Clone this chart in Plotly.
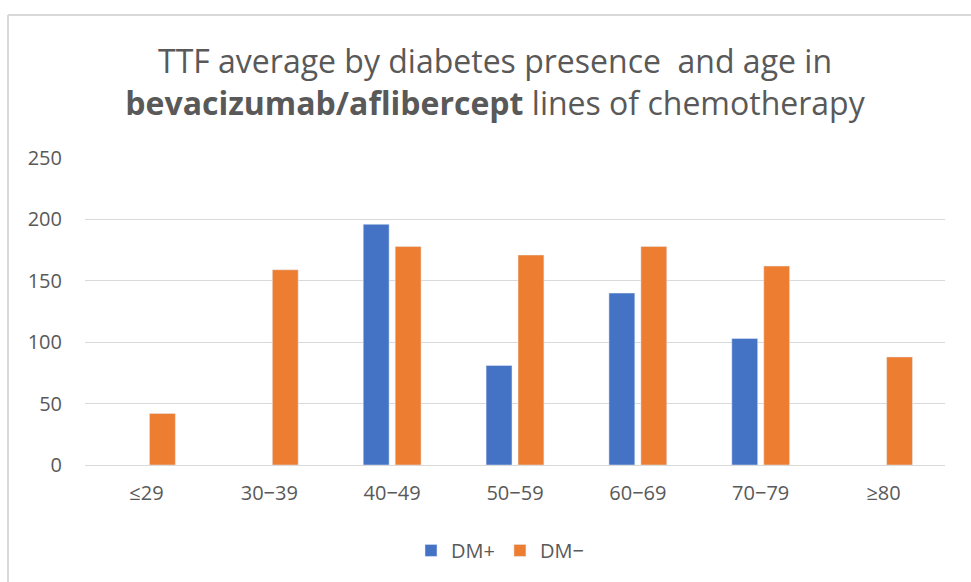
import plotly.graph_objects as go

categories = ["≤29", "30−39", "40−49", "50−59", "60−69", "70−79", "≥80"]
dm_plus = [None, None, 196, 81, 140, 103, None]
dm_minus = [42, 159, 178, 171, 178, 162, 88]
y_ticks = [0, 50, 100, 150, 200, 250]

fig = go.Figure()
fig.add_trace(go.Bar(name="DM+", x=categories, y=dm_plus, marker=dict(color="#4472C4")))
fig.add_trace(go.Bar(name="DM−", x=categories, y=dm_minus, marker=dict(color="#ED7D31")))

font_family = "Open Sans, Liberation Sans, sans-serif"
fig.update_layout(
    width=971, height=582,
    margin=dict(l=85, r=26, t=158, b=115),
    paper_bgcolor="white", plot_bgcolor="white",
    barmode="group", bargap=0.48, bargroupgap=0.19,
    font=dict(family=font_family, color="#595959", size=20),
    title=dict(
        text="TTF average by diabetes presence  and age in<br><b>bevacizumab/aflibercept</b> lines of chemotherapy",
        x=495/971, xanchor="center", y=1 - 73/582, yanchor="middle",
        font=dict(size=32, color="#595959", family=font_family),
    ),
    xaxis=dict(showgrid=False, showline=True, linecolor="#d9d9d9", linewidth=1,
               tickfont=dict(size=20, color="#595959"), ticks="", ticklabelstandoff=10),
    yaxis=dict(range=[0, 250], tickvals=y_ticks, showgrid=True, gridcolor="#d9d9d9",
               gridwidth=1, zeroline=False, showline=False, ticks="",
               tickfont=dict(size=20, color="#595959"), ticklabelstandoff=22),
    legend=dict(orientation="h", x=(500-85)/860, xanchor="center", y=(467-553)/309, yanchor="middle",
                font=dict(size=20, color="#595959"), itemwidth=30, tracegroupgap=0),
    showlegend=True,
)
# chart border (left and top edges visible)
fig.add_shape(type="line", xref="paper", yref="paper",
              x0=(8-85)/860, x1=1.1, y0=(467-14)/309, y1=(467-14)/309,
              line=dict(color="#d9d9d9", width=2))
fig.add_shape(type="line", xref="paper", yref="paper",
              x0=(8-85)/860, x1=(8-85)/860, y0=(467-14)/309, y1=-0.5,
              line=dict(color="#d9d9d9", width=2))

fig.write_html("out.html", config={"displayModeBar": False},
               post_script="document.body.style.margin='0';document.body.style.overflow='hidden';")
